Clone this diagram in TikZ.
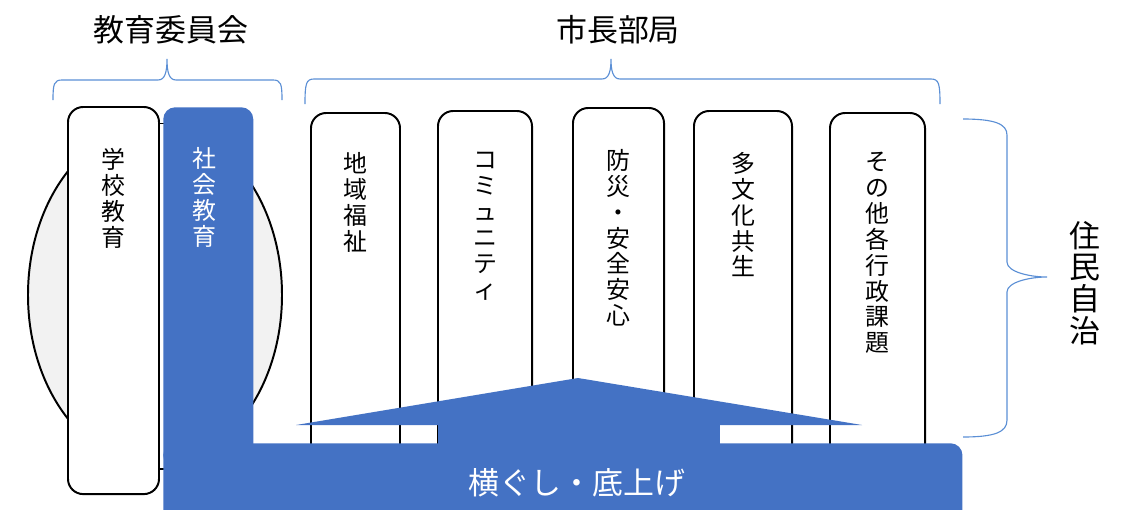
\documentclass[tikz,border=0pt]{standalone}
\usepackage{fontspec}
\setmainfont{Noto Sans CJK JP}
\usetikzlibrary{positioning}
\definecolor{barblue}{HTML}{4472C4}
\definecolor{braceblue}{HTML}{5B8FD5}
\definecolor{ovalgray}{HTML}{F2F2F2}
\tikzstyle{pillar} = [rectangle, rounded corners=0.38cm, draw=black, line width=1.4pt, fill=white, anchor=north, inner sep=0pt]
\tikzstyle{tate} = [align=center, inner sep=0pt, font=\fontsize{17}{18.4}\selectfont]
\tikzstyle{tatebig} = [align=center, inner sep=0pt, font=\fontsize{22}{22.5}\selectfont]
\tikzstyle{heading} = [inner sep=0pt, font=\fontsize{22}{24}\selectfont]
\tikzstyle{blueblock} = [rectangle, rounded corners=0.3cm, fill=barblue, anchor=north west, inner sep=0pt]
\tikzstyle{brace} = [draw=braceblue, line width=0.8pt]

\begin{document}
\begin{tikzpicture}[x=0.025cm, y=-0.025cm]
        \useasboundingbox (0,0) rectangle (1121,509);
        % headings
        \node (kyoiku) [heading] at (171,30) {教育委員会};
        \node (shicho) [heading] at (618,30) {市長部局};
        % braces
        \draw [brace] (53,100) .. controls (53,84) and (54,80) .. (62,80) -- (158,80)
          .. controls (165,80) and (167,72) .. (167,59) .. controls (167,72) and (169,80) .. (176,80)
          -- (273,80) .. controls (281,80) and (282,84) .. (282,100);
        \draw [brace] (305,104) .. controls (305,84) and (306,79) .. (314,79) -- (602,79)
          .. controls (609,79) and (611,71) .. (611,59) .. controls (611,71) and (613,79) .. (620,79)
          -- (931,79) .. controls (939,79) and (940,84) .. (940,104);
        \draw [brace] (963,119) .. controls (995,119) and (1007,124) .. (1007,135) -- (1007,262)
          .. controls (1007,272) and (1030,277) .. (1047,277) .. controls (1030,277) and (1007,282) .. (1007,292)
          -- (1007,420) .. controls (1007,432) and (995,437) .. (963,437);
        \node (jumin) [tatebig] at (1085,283) {住\\民\\自\\治};
        % education board side
        \draw [black, line width=1.4pt, fill=ovalgray] (155,295) ellipse [x radius=127, y radius=170];
        \node (shakaiback) [rectangle, draw=black, line width=1pt, fill=white, anchor=north west, minimum width=2.3cm, minimum height=8.625cm] at (158,123) {};
        \node (gakko) [pillar, minimum width=2.275cm, minimum height=9.675cm] at (113.5,106) {};
        \node (gakkot) [tate, below=1.05cm of gakko.north] {学\\校\\教\\育};
        \node (shakai) [blueblock, minimum width=2.25cm, minimum height=9cm] at (163,107) {};
        \node (shakait) [tate, text=white, below=1.0cm of shakai.north, xshift=-0.1cm] {社\\会\\教\\育};
        % mayor side pillars
        \node (chiiki) [pillar, minimum width=2.225cm, minimum height=8.8cm] at (355.5,112) {};
        \node (komyu) [pillar, minimum width=2.35cm, minimum height=8.8cm] at (485,110) {};
        \node (bosai) [pillar, minimum width=2.275cm, minimum height=8.9cm] at (618.5,107) {};
        \node (tabunka) [pillar, minimum width=2.45cm, minimum height=8.8cm] at (743,110) {};
        \node (sonota) [pillar, minimum width=2.375cm, minimum height=8.8cm] at (877.5,112) {};
        \node (chiikit) [tate, below=1.0cm of chiiki.north] {地\\域\\福\\祉};
        \node (komyut) [tate, below=1.05cm of komyu.north] {コ\\ミ\\ュ\\ニ\\テ\\ィ};
        \node (bosait) [tate, below=1.05cm of bosai.north] {防\\災\\・\\安\\全\\安\\心};
        \node (tabunkat) [tate, below=1.05cm of tabunka.north] {多\\文\\化\\共\\生};
        \node (sonotat) [tate, below=1.0cm of sonota.north] {そ\\の\\他\\各\\行\\政\\課\\題};
        % raising arrow and bar
        \fill [barblue] (296,425) -- (578,378) -- (862,425) -- cycle;
        \fill [barblue] (438,424) rectangle (720,446);
        \node (bar) [blueblock, minimum width=19.975cm, minimum height=2.2cm] at (163,443) {};
        \node (bart) [heading, text=white] at (577,483) {横ぐし・底上げ};
      \end{tikzpicture}
\end{document}
